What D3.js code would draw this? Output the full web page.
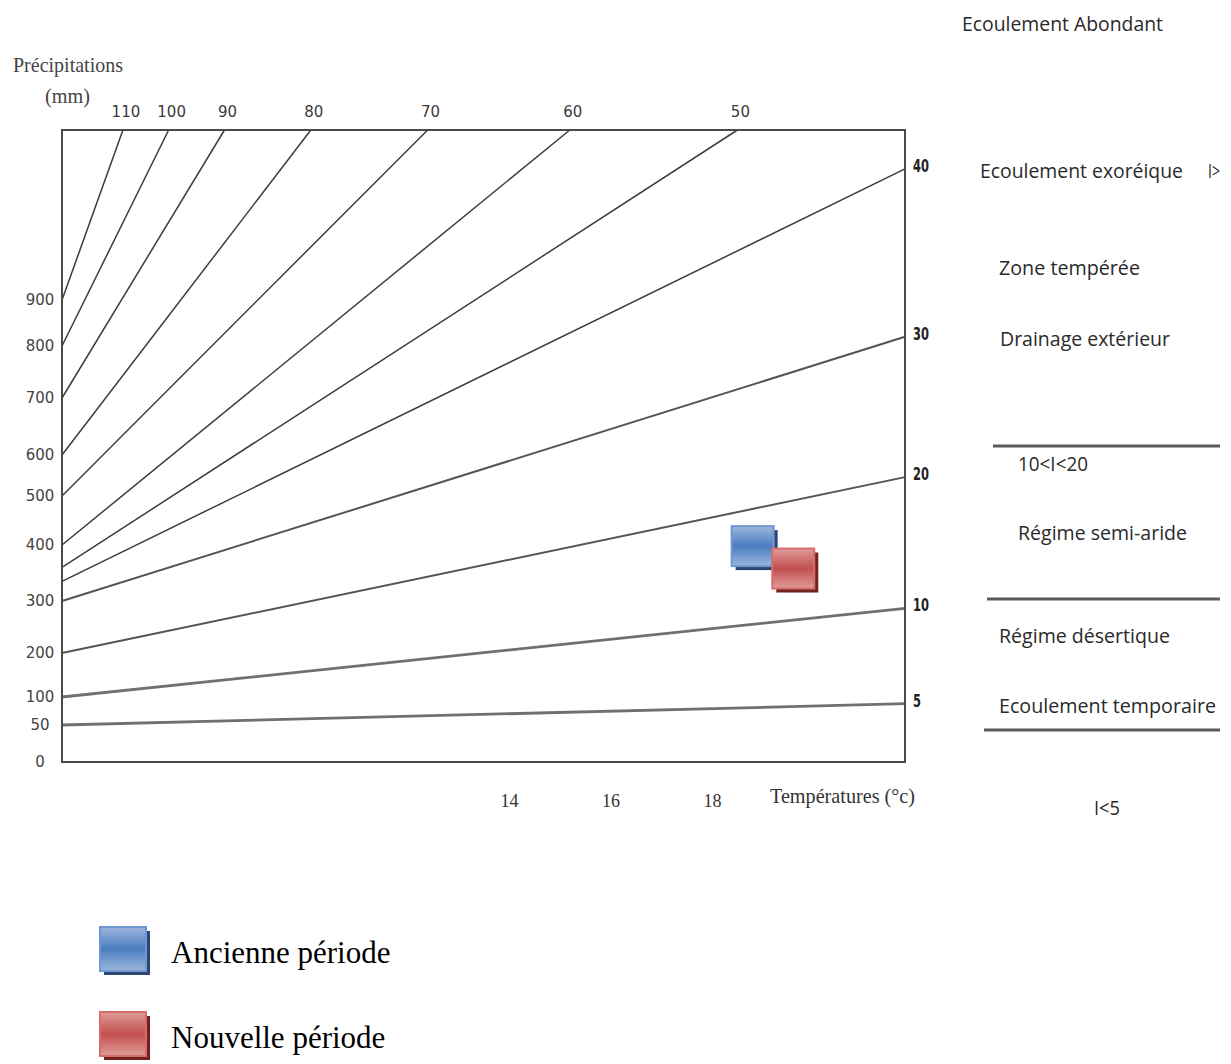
<!DOCTYPE html>
<html>
<head>
<meta charset="utf-8">
<script src="https://cdn.jsdelivr.net/npm/d3@7"></script>
<style>
  html, body { margin: 0; padding: 0; background: #fff; }
  svg { display: block; }
</style>
</head>
<body>
<svg id="chart" width="1231" height="1064"></svg>
<script>
// Abaque de De Martonne : indice d'aridité I = P / (T + 10)

const tempTicks   = [14, 16, 18];
const precipTicks = [0, 50, 100, 200, 300, 400, 500, 600, 700, 800, 900];

// iso-index lines: value of I, precipitation where each line leaves the left edge
const isoIndex  = [110, 100, 90, 80, 70, 60, 50, 40, 30, 20, 10, 5];
const isoStartP = [900, 800, 700, 600, 500, 400, 360, 335, 300, 200, 100, 50];
// lines leaving through the top edge end at these temperatures (°C)
const isoEndT   = [6.4, 7.3, 8.4, 10.1, 12.4, 15.2, 18.5, null, null, null, null, null];
// lines leaving through the right edge end at these precipitations (mm)
const isoEndP   = [null, null, null, null, null, null, null, 1185, 820, 546, 286, 88];

// station points for the two periods
const periods  = ["Ancienne période", "Nouvelle période"];
const periodT  = [18.8, 19.6];
const periodP  = [398, 358];

// zone descriptions written beside the abacus
const zoneNotes = [
  "Ecoulement Abondant", "Ecoulement exoréique", "I>", "Zone tempérée",
  "Drainage extérieur", "10<I<20", "Régime semi-aride", "Régime désertique",
  "Ecoulement temporaire", "I<5"
];

const svg = d3.select("#chart");
const frame = { left: 62, right: 905, top: 130, bottom: 762 };

const x = d3.scaleLinear().domain([5.2, 21.8]).range([frame.left, frame.right]);
// the precipitation axis of the abacus is graduated unevenly
const y = d3.scaleLinear()
  .domain(precipTicks)
  .range([762, 725, 697, 653, 601, 545, 496, 455, 398, 346, 300]);

// ---- gradients for the square markers
const defs = svg.append("defs");
const palettes = [
  { id: "gBlue", edge: "#9db7dd", mid: "#4b7cc0", stroke: "#6e98cf", shadow: "#2b4670" },
  { id: "gRed",  edge: "#e09c9a", mid: "#c0504d", stroke: "#d56d6a", shadow: "#72211f" }
];
palettes.forEach(p => {
  const g = defs.append("linearGradient").attr("id", p.id)
    .attr("x1", 0).attr("y1", 0).attr("x2", 0).attr("y2", 1);
  g.append("stop").attr("offset", "0%").attr("stop-color", p.edge);
  g.append("stop").attr("offset", "50%").attr("stop-color", p.mid);
  g.append("stop").attr("offset", "100%").attr("stop-color", p.edge);
});

// ---- iso-index lines
const lines = isoIndex.map((I, i) => {
  const t1 = isoEndT[i] != null ? isoEndT[i] : x.domain()[1];
  const p1 = isoEndP[i] != null ? isoEndP[i] : y.invert(frame.top);
  return { I, top: isoEndT[i] != null, p0: isoStartP[i], t1, p1 };
});

svg.append("g").selectAll("line").data(lines).join("line")
  .attr("x1", x(x.domain()[0]))
  .attr("y1", d => y(d.p0))
  .attr("x2", d => x(d.t1))
  .attr("y2", d => y(d.p1))
  .attr("stroke", d => d.I <= 10 ? "#707070" : d.I <= 30 ? "#555" : "#3c3c3c")
  .attr("stroke-width", d => d.I <= 10 ? 2.8 : d.I <= 30 ? 2 : 1.5);

// ---- frame
svg.append("rect")
  .attr("x", frame.left).attr("y", frame.top)
  .attr("width", frame.right - frame.left).attr("height", frame.bottom - frame.top)
  .attr("fill", "none").attr("stroke", "#4a4a4a").attr("stroke-width", 2);

// ---- labels of the iso lines
svg.append("g").selectAll("text").data(lines.filter(d => d.top)).join("text")
  .attr("x", d => x(d.t1) + 3)
  .attr("y", 117)
  .attr("text-anchor", "middle")
  .attr("font-family", "DejaVu Sans, Verdana, sans-serif")
  .attr("font-size", 15)
  .attr("fill", "#3a3a3a")
  .text(d => d.I);

svg.append("g").selectAll("text").data(lines.filter(d => !d.top)).join("text")
  .attr("x", frame.right + 8)
  .attr("y", d => y(d.p1) + 3)
  .attr("font-family", "DejaVu Sans Condensed, DejaVu Sans, sans-serif")
  .attr("font-stretch", "condensed")
  .attr("font-weight", "bold")
  .attr("font-size", 17)
  .attr("textLength", d => String(d.I).length * 8)
  .attr("lengthAdjust", "spacingAndGlyphs")
  .attr("fill", "#222")
  .text(d => d.I);

// ---- precipitation axis
const yAxis = svg.append("g")
  .attr("transform", `translate(${frame.left},0)`)
  .call(d3.axisLeft(y).tickValues(precipTicks).tickSize(0).tickFormat(d3.format("d")));
yAxis.select(".domain").remove();
yAxis.selectAll("text")
  .attr("x", -22)
  .attr("text-anchor", "middle")
  .attr("font-family", "DejaVu Sans, Verdana, sans-serif")
  .attr("font-size", 15)
  .attr("fill", "#444");

// ---- temperature axis
const xAxis = svg.append("g")
  .attr("transform", `translate(0,${frame.bottom})`)
  .call(d3.axisBottom(x).tickValues(tempTicks).tickSize(0));
xAxis.select(".domain").remove();
xAxis.selectAll("text")
  .attr("y", 45).attr("dy", null)
  .attr("font-family", "Liberation Serif, Times New Roman, serif")
  .attr("font-size", 18)
  .attr("fill", "#333");

// ---- axis titles
const serif = "Liberation Serif, Times New Roman, serif";
svg.append("text").attr("x", 13).attr("y", 72)
  .attr("font-family", serif).attr("font-size", 22).attr("fill", "#444")
  .attr("textLength", 110).attr("lengthAdjust", "spacingAndGlyphs")
  .text("Précipitations");
svg.append("text").attr("x", 45).attr("y", 103)
  .attr("font-family", serif).attr("font-size", 22).attr("fill", "#444")
  .attr("textLength", 45).attr("lengthAdjust", "spacingAndGlyphs")
  .text("(mm)");
svg.append("text").attr("x", 770).attr("y", 803)
  .attr("font-family", serif).attr("font-size", 22).attr("fill", "#333")
  .attr("textLength", 145).attr("lengthAdjust", "spacingAndGlyphs")
  .text("Températures (°c)");

// ---- square marker drawing
function marker(g, cx, cy, w, h, p) {
  g.append("rect")
    .attr("x", cx - w / 2 + 4).attr("y", cy - h / 2 + 4)
    .attr("width", w).attr("height", h)
    .attr("fill", p.shadow);
  g.append("rect")
    .attr("x", cx - w / 2).attr("y", cy - h / 2)
    .attr("width", w).attr("height", h)
    .attr("fill", `url(#${p.id})`)
    .attr("stroke", p.stroke).attr("stroke-width", 2);
}

// ---- period points
const pts = svg.append("g");
periods.forEach((name, i) => {
  marker(pts, x(periodT[i]), y(periodP[i]), 42, 40, palettes[i]);
});

// ---- legend
const legend = svg.append("g");
periods.forEach((name, i) => {
  const top = 927 + i * 85;
  marker(legend, 100 + 23, top + 22, 46, 44, palettes[i]);
  legend.append("text")
    .attr("x", 171).attr("y", top + 36)
    .attr("font-family", serif).attr("font-size", 31).attr("fill", "#000")
    .text(name);
});

// ---- zone notes on the right
const noteLayout = [
  { x: 962,  y: 31,  w: 201 },
  { x: 980,  y: 178, w: 203 },
  { x: 1208, y: 178, w: 12 },
  { x: 999,  y: 275, w: 141 },
  { x: 1000, y: 346, w: 170 },
  { x: 1018, y: 471, w: 70 },
  { x: 1018, y: 540, w: 169 },
  { x: 999,  y: 643, w: 171 },
  { x: 999,  y: 713, w: 217 },
  { x: 1094, y: 815, w: 26 }
];
svg.append("g").selectAll("text").data(zoneNotes).join("text")
  .attr("x", (d, i) => noteLayout[i].x)
  .attr("y", (d, i) => noteLayout[i].y)
  .attr("textLength", (d, i) => noteLayout[i].w)
  .attr("lengthAdjust", "spacingAndGlyphs")
  .attr("font-family", "Open Sans, Noto Sans, sans-serif")
  .attr("font-size", 20)
  .attr("fill", "#2a2a2a")
  .text(d => d);

// separators between the zones
const separators = [
  { x1: 993, x2: 1220, y: 446 },
  { x1: 987, x2: 1220, y: 599 },
  { x1: 984, x2: 1220, y: 730 }
];
svg.append("g").selectAll("line").data(separators).join("line")
  .attr("x1", d => d.x1).attr("x2", d => d.x2)
  .attr("y1", d => d.y).attr("y2", d => d.y)
  .attr("stroke", "#5a5a5a").attr("stroke-width", 3);
</script>
</body>
</html>
